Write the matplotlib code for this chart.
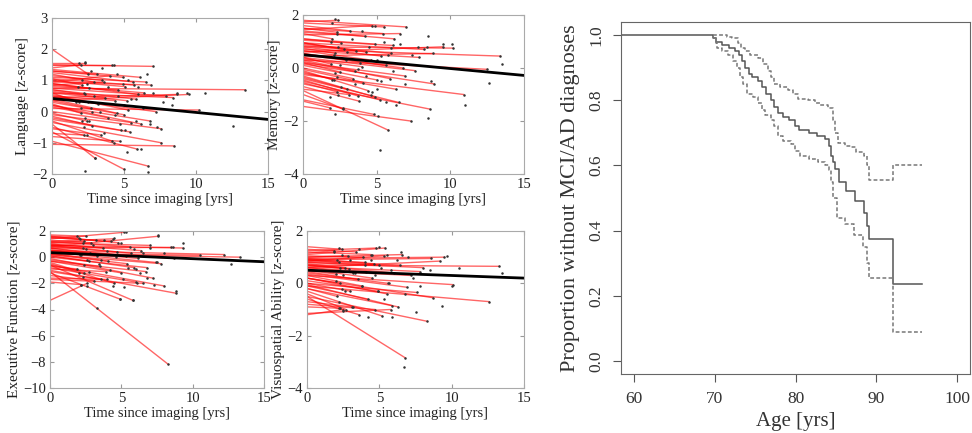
import matplotlib
matplotlib.use("Agg")
import matplotlib.pyplot as plt

plt.rcParams["font.family"] = ["Liberation Serif", "DejaVu Serif"]

# ---- Spaghetti panels: each subject line runs from t=0 to t_end ----
# Language
lang_end = [13.4, 10.2, 9.5, 8.7, 8.5, 8.4, 7.6, 7.0, 6.9, 6.7, 6.5, 6.2, 6.0, 5.9, 5.8,
            5.6, 5.5, 5.3, 5.1, 5.0, 5.0, 4.9, 4.8, 4.6, 4.5, 4.3, 4.2, 4.0, 3.9, 3.7,
            3.5, 3.4, 3.2, 3.0, 2.9, 2.7, 2.6, 2.5, 2.4, 2.3, 2.3, 2.2, 2.1, 2.0, 2.0,
            1.9, 7.6, 6.4, 5.7, 7.2, 4.7, 3.6, 2.8, 5.2, 6.8, 7.9, 4.4, 3.1, 5.4, 6.1]
lang_start = [0.75, 0.10, 0.35, 0.45, -1.05, 0.60, -0.10, 1.50, 0.95, -0.95, 1.10, 0.20, 0.90, -0.50, 0.70,
              1.25, 0.00, 0.55, 1.00, -0.65, 0.30, 1.30, -0.20, 0.80, 0.40, 1.50, -0.30, 0.95, 0.15, 0.65,
              1.15, -0.55, 0.50, -0.40, 1.20, 0.35, 0.90, 2.00, -0.05, 1.55, 0.70, -0.70, 1.05, 0.25, 1.40,
              0.60, -0.35, 0.85, 1.05, 0.45, -0.80, 0.85, -0.15, 0.60, 0.20, 0.75, 0.50, 1.30, -0.25, 1.35]
lang_last = [0.70, 0.05, 0.55, 0.55, -1.10, 0.45, -0.55, 1.45, 0.85, -1.75, 0.95, -0.40, 0.55, -1.20, 0.40,
             0.95, -0.35, 0.05, 0.80, -1.85, -0.10, 1.10, -0.60, 0.70, -0.05, 1.50, -0.95, 1.15, -0.20, 0.45,
             1.00, -0.75, 0.25, -1.50, 0.95, 0.10, 0.75, 1.20, -0.30, 1.55, 0.55, -0.75, 0.85, -0.05, 1.50,
             0.30, -1.00, 0.60, 0.85, 0.00, -0.95, 0.95, -0.45, 0.35, -0.30, 0.50, 0.35, 1.20, -0.65, 1.10]
lang_dot_x = [1.9, 2.3, 2.1, 2.4, 2.2, 2.5, 2.0, 2.3, 2.6, 2.2, 2.4, 2.3, 3.0, 1.8, 2.7, 2.9, 3.3,
              3.5, 3.6, 4.2, 4.5, 4.6, 4.4, 4.7, 4.9, 5.0, 5.1, 5.2, 4.3, 5.3, 5.5, 5.8, 6.0, 6.2,
              6.3, 6.6, 6.8, 7.0, 7.3, 7.7, 8.3, 8.7, 9.4, 10.6, 12.6, 6.7, 2.1, 1.7, 2.8, 3.9]
lang_dot_y = [1.55, 1.6, 1.0, 0.9, 0.6, 0.3, 0.1, -0.2, -0.3, -0.5, -0.75, -1.9, -1.5, 0.8, 1.3, 0.5, 0.0,
              1.4, -0.7, 1.5, 1.2, 0.5, -0.1, -0.4, 0.9, 0.2, -0.6, -1.3, -1.0, 1.0, 0.4, -0.3, 0.8, -1.2,
              0.1, 1.2, -0.4, 0.6, -0.5, 0.3, 0.2, 0.6, 0.6, 0.6, -0.45, -1.95, -0.3, 0.3, 0.0, 0.8]
lang_mean = [0.42, -0.25]

# Memory
mem_end = [13.4, 12.5, 10.9, 10.2, 9.5, 8.8, 8.6, 8.2, 7.3, 7.0, 6.9, 6.6, 6.3, 6.0, 5.8,
           5.6, 5.4, 5.2, 5.0, 4.9, 4.8, 4.6, 4.4, 4.2, 4.0, 3.8, 3.6, 3.4, 3.2, 3.0,
           2.9, 2.7, 2.6, 2.5, 2.4, 2.3, 2.2, 2.1, 2.0, 1.9, 1.8, 6.1, 5.3, 7.6, 4.7,
           3.7, 6.5, 5.9, 4.3, 7.9, 3.1, 2.8, 5.5, 4.1, 6.8, 8.9, 2.3, 3.5, 4.9, 6.2]
mem_start = [0.70, 0.30, -0.25, 0.80, 0.60, 0.45, -0.60, 0.95, -1.45, 1.80, 0.20, 1.25, -0.20, 0.90, -0.85,
             0.55, 1.50, -0.50, 0.10, 1.10, -1.20, 0.65, -0.10, 1.35, 0.35, -0.70, 0.85, 0.00, 1.60, -0.35,
             0.55, -1.00, 1.10, 0.20, 1.75, -0.55, 0.75, -0.15, 1.30, 0.40, -1.25, 1.05, 0.80, 0.40, 1.45,
             -0.45, -0.40, 0.25, 0.95, 0.65, -0.80, 0.95, 1.70, -0.05, 0.50, 0.15, 1.50, 0.30, -0.30, 1.40]
mem_last = [0.45, -0.05, -1.00, 0.75, 0.80, 0.55, -1.55, 0.70, -2.00, 1.55, -0.30, 1.30, -0.80, 0.55, -2.35,
            0.10, 1.30, -1.20, -0.45, 0.90, -1.75, 0.30, -0.85, 1.20, 0.05, -1.25, 0.65, -0.40, 1.40, -0.80,
            0.30, -1.55, 0.95, -0.15, 1.80, -0.90, 0.55, -0.45, 1.10, 0.15, -1.50, 0.85, 0.45, -0.10, 1.60,
            -1.05, -1.30, -0.40, 0.60, 0.40, -1.00, 0.70, 1.55, -0.55, 0.00, -0.60, 1.35, -0.10, -1.10, 1.10]
mem_dot_x = [2.2, 2.0, 2.3, 1.9, 2.4, 2.1, 2.5, 2.2, 2.3, 2.0, 2.6, 2.4, 1.8, 2.2, 2.7, 3.0, 3.3,
             3.5, 3.9, 4.0, 4.3, 4.5, 4.7, 4.9, 5.0, 5.1, 5.2, 5.3, 5.5, 5.6, 5.8, 6.1, 6.3, 6.6,
             6.9, 7.4, 7.8, 8.4, 8.5, 8.5, 8.7, 9.5, 10.1, 11.0, 12.6, 13.5, 5.0, 4.6, 6.0, 3.7]
mem_dot_y = [1.85, 1.7, 1.3, 1.0, 0.8, 0.5, 0.1, -0.2, -0.35, -0.45, -0.7, -1.0, -1.1, -1.75, -1.5, 0.6, 1.1,
             -0.6, 0.2, 1.4, -0.3, 0.8, -0.9, 1.6, 0.3, -1.8, -3.1, -0.5, 1.0, -1.3, 0.5, -0.1, -1.4, 0.9,
             -0.6, 0.5, 0.8, 0.8, 1.2, -1.9, -0.5, 0.9, 0.9, -1.4, -0.55, 0.15, -0.8, -1.0, 0.75, -0.05]
mem_mean = [0.50, -0.28]

# Executive function
exe_end = [13.3, 12.2, 10.5, 9.3, 8.8, 8.6, 8.3, 8.0, 7.6, 7.2, 7.0, 6.8, 6.5, 6.2, 6.0,
           5.8, 5.6, 5.4, 5.2, 5.0, 4.9, 4.7, 4.5, 4.3, 4.1, 3.9, 3.7, 3.5, 3.3, 3.1,
           2.9, 2.7, 2.6, 2.5, 2.4, 2.3, 2.2, 2.1, 2.0, 1.9, 6.4, 5.3, 7.4, 4.4, 3.6,
           5.9, 2.8, 4.8, 6.7, 3.2, 8.7, 5.7, 4.0, 7.8, 2.4]
exe_start = [0.25, 0.50, 0.30, 0.90, -1.00, 0.70, -1.10, -0.60, 0.80, -0.10, 1.10, 0.00, -1.70, 0.50, -0.80,
             -0.60, 1.20, 0.20, 1.40, -0.30, -1.20, 0.80, -0.50, 1.50, 0.30, -0.90, 1.00, -0.20, 0.60, -1.40,
             1.30, 0.10, -3.30, 1.70, -0.40, 0.90, -1.90, 0.40, 1.60, -0.70, 1.00, 0.70, 0.40, 1.20, -1.10,
             0.10, 0.70, 1.60, -0.30, 1.50, 0.50, 0.90, -1.60, 0.20, 1.10]
exe_last = [0.00, 0.20, 0.15, 0.70, -2.75, 0.75, -8.20, -2.20, 1.60, -1.60, 0.90, -0.80, -2.00, -0.10, -1.90,
            -3.30, 0.80, -0.50, 1.90, -1.20, -3.20, 0.40, -2.00, 1.20, -0.30, -1.10, 0.70, -0.70, 0.10, -1.80,
            1.10, -0.30, -2.00, 1.60, -1.20, 0.70, -2.10, 0.20, 1.50, -0.90, 0.50, 0.10, -0.40, 1.40, -1.70,
            -0.80, 0.30, 1.10, -1.10, 1.30, -0.10, 0.30, -1.70, -0.50, 1.20]
exe_dot_x = [1.9, 2.1, 2.3, 2.5, 2.2, 2.6, 2.4, 2.0, 2.7, 2.3, 2.6, 2.2, 3.3, 3.0, 3.4, 3.8, 4.0,
             4.2, 4.4, 4.6, 4.9, 5.0, 5.1, 5.2, 5.3, 5.5, 5.8, 5.9, 6.1, 6.3, 6.5, 6.8, 7.0, 7.3,
             7.6, 8.0, 8.5, 8.8, 9.3, 12.7, 4.5, 3.6, 6.0, 7.5]
exe_dot_y = [1.6, 1.4, 1.1, 0.6, 0.2, -0.2, -0.6, -1.2, -1.1, -1.5, -2.2, -2.1, -3.9, 0.9, -0.5, 1.3, 0.5,
             -1.0, -2.2, 0.0, -3.2, 1.1, -1.7, -2.3, 1.9, -0.8, -3.3, 0.6, -2.0, -1.2, 0.3, -1.6, 0.7, -2.1,
             1.7, 0.3, 0.8, -2.6, 1.1, -0.5, 1.5, -0.2, -0.9, -0.4]
exe_mean = [0.35, -0.35]

# Visuospatial ability
vis_end = [13.3, 12.6, 10.1, 9.5, 9.2, 8.7, 8.3, 8.0, 7.6, 7.2, 6.8, 6.6, 6.3, 6.0, 5.8,
           5.6, 5.4, 5.2, 5.0, 4.9, 4.7, 4.5, 4.4, 4.2, 4.0, 3.8, 3.6, 3.4, 3.2, 3.0,
           2.8, 2.7, 2.6, 2.5, 2.4, 2.3, 2.2, 2.1, 2.0, 1.9, 6.4, 5.5, 7.8, 4.6, 3.5,
           5.9, 2.9, 4.8, 6.9, 3.1, 8.6, 4.1, 5.3, 3.9, 2.2]
vis_start = [0.70, -0.10, 0.30, 0.95, 0.60, 0.20, -0.50, 0.80, 0.00, 0.50, -0.50, 1.00, -0.20, 0.70, -1.15,
             0.40, 1.10, -0.30, 0.80, 0.10, -0.80, 0.55, 1.20, -0.10, 0.90, 0.30, -0.60, 1.30, 0.60, 0.00,
             1.00, -0.40, 0.75, -1.20, 1.40, 0.20, 0.90, -0.20, 0.50, 1.15, 0.85, 0.20, 0.65, 0.95, 0.45,
             -0.05, 0.70, 1.25, 0.35, -0.70, 0.90, 0.60, 0.85, 1.05, -0.90]
vis_last = [0.65, -0.70, -0.05, 1.00, 0.85, -0.55, -1.45, 0.60, -0.35, 0.30, -2.85, 1.10, -0.90, 0.40, -1.00,
            0.00, 1.35, -1.25, 0.70, -0.30, -1.00, 0.20, 1.10, -0.60, 0.80, -0.10, -1.20, 1.20, 0.40, -0.30,
            1.05, -1.00, 0.60, -1.00, 1.30, 0.00, 0.80, -0.50, 0.35, 1.25, 0.70, -0.40, 0.45, 0.75, 0.15,
            -0.85, 0.55, 1.35, -0.15, -0.90, 0.95, 0.45, 1.05, 1.00, -0.95]
vis_dot_x = [1.9, 2.2, 2.4, 2.1, 2.3, 2.5, 2.0, 2.4, 2.6, 2.2, 2.3, 2.5, 3.0, 3.3, 3.6, 3.8, 4.0,
             4.2, 4.5, 4.7, 4.9, 5.0, 5.1, 5.3, 5.5, 5.7, 5.9, 6.2, 6.5, 6.8, 7.0, 7.3, 7.5, 7.8,
             8.5, 9.3, 9.7, 10.5, 10.0, 13.5, 6.7, 4.4, 3.2, 5.8]
vis_dot_y = [1.2, 1.35, 1.1, 0.9, 0.6, 0.3, 0.1, -0.2, -0.3, -0.7, -0.95, -1.05, 0.9, 0.4, 1.3, -0.1, 0.7,
             -1.3, 1.1, 0.3, -0.3, 1.4, 0.6, -0.6, 1.1, 0.0, -1.3, 0.9, 1.2, -0.4, 1.0, 0.2, -1.1, -0.1,
             0.5, -0.85, 1.05, 0.6, -0.1, 0.4, -3.2, 0.9, -0.9, 0.5]
vis_mean = [0.50, 0.20]

# ---- Kaplan-Meier curve with confidence band ----
km_age = [58.4, 69.8, 70.1, 70.9, 71.8, 72.5, 73.0, 73.4, 73.7, 74.2, 74.6, 75.4, 75.8, 76.4, 77.0,
          77.4, 77.8, 78.4, 79.2, 79.9, 80.4, 81.7, 82.6, 83.7, 84.2, 84.4, 84.6, 84.9, 85.4, 86.2,
          87.4, 88.5, 88.9, 89.1, 92.1, 95.6]
km_surv = [1.0, 0.99, 0.98, 0.97, 0.96, 0.95, 0.94, 0.92, 0.90, 0.88, 0.87, 0.86, 0.84, 0.82, 0.80,
           0.78, 0.76, 0.75, 0.74, 0.72, 0.71, 0.70, 0.69, 0.68, 0.66, 0.63, 0.61, 0.59, 0.55, 0.52,
           0.49, 0.455, 0.415, 0.375, 0.237, 0.237]
up_age = [69.8, 71.5, 72.1, 72.9, 73.3, 73.7, 74.4, 75.4, 76.0, 76.6, 77.0, 77.4, 78.1, 79.1, 79.7,
          80.3, 81.5, 82.4, 83.0, 84.0, 84.6, 84.9, 85.2, 86.1, 86.9, 87.5, 88.5, 88.9, 89.1, 92.1, 95.6]
up_surv = [1.0, 0.995, 0.99, 0.975, 0.96, 0.95, 0.94, 0.93, 0.91, 0.89, 0.87, 0.85, 0.84, 0.83, 0.82,
           0.805, 0.80, 0.79, 0.785, 0.775, 0.74, 0.70, 0.67, 0.66, 0.655, 0.64, 0.63, 0.60, 0.555, 0.60, 0.60]
lo_age = [69.8, 70.1, 70.3, 70.9, 71.7, 72.3, 72.8, 73.1, 73.5, 74.0, 74.8, 75.4, 75.8, 76.2, 77.0,
          77.4, 77.8, 78.5, 79.5, 79.9, 80.5, 81.7, 82.8, 83.6, 84.1, 84.4, 84.7, 85.1, 86.1, 87.3,
          88.3, 88.8, 89.1, 92.1, 95.6]
lo_surv = [0.99, 0.975, 0.96, 0.95, 0.94, 0.92, 0.90, 0.87, 0.85, 0.82, 0.81, 0.79, 0.77, 0.755, 0.74,
           0.72, 0.69, 0.675, 0.665, 0.645, 0.63, 0.62, 0.61, 0.60, 0.585, 0.55, 0.50, 0.44, 0.42, 0.385,
           0.35, 0.30, 0.255, 0.09, 0.09]

W, H = 972, 433
fig = plt.figure(figsize=(W / 100, H / 100), dpi=100)


def box(l, r, t, b):
    return [l / W, 1 - b / H, (r - l) / W, (b - t) / H]


def spaghetti(rect, t_end, y0, y1, dx, dy, mean, ylim, yticks, ylabel):
    ax = fig.add_axes(rect)
    for te, a, b in zip(t_end, y0, y1):
        ax.plot([0, te], [a, b], color="red", lw=1.0, alpha=0.6)
    ax.plot(t_end, y1, ".", color="#333", ms=1.6)
    ax.plot(dx, dy, ".", color="#333", ms=1.6)
    ax.plot([0, 15], mean, color="black", lw=2)
    ax.set_xlim(0, 15)
    ax.set_ylim(*ylim)
    ax.set_xticks([0, 5, 10, 15])
    ax.set_yticks(yticks)
    ax.tick_params(direction="in", top=True, right=True, length=3, color="#999",
                   labelsize=10.5, labelcolor="#222", pad=3)
    for s in ax.spines.values():
        s.set_color("#aaa")
    ax.set_xlabel("Time since imaging [yrs]", fontsize=10.5, color="#222", labelpad=1)
    ax.set_ylabel(ylabel, fontsize=11, color="#222", labelpad=2)
    return ax


spaghetti(box(52, 268, 18, 174), lang_end, lang_start, lang_last, lang_dot_x, lang_dot_y,
          lang_mean, (-2, 3), range(-2, 4), "Language [z-score]")
spaghetti(box(303, 524, 15, 174), mem_end, mem_start, mem_last, mem_dot_x, mem_dot_y,
          mem_mean, (-4, 2), [-4, -2, 0, 2], "Memory [z-score]")
spaghetti(box(50, 264, 231, 388), exe_end, exe_start, exe_last, exe_dot_x, exe_dot_y,
          exe_mean, (-10, 2), range(-10, 3, 2), "Executive Function [z-score]")
spaghetti(box(307, 524, 231, 388), vis_end, vis_start, vis_last, vis_dot_x, vis_dot_y,
          vis_mean, (-4, 2), [-4, -2, 0, 2], "Visuospatial Ability [z-score]")

# Kaplan-Meier panel (R style)
ax = fig.add_axes(box(621, 970, 22, 374))
ax.step(km_age, km_surv, where="post", color="#555", lw=1.1)
ax.step(up_age, up_surv, where="post", color="#777", lw=1.1, linestyle=(0, (2.5, 1.5)))
ax.step(lo_age, lo_surv, where="post", color="#777", lw=1.1, linestyle=(0, (2.5, 1.5)))
ax.set_xlim(58.4, 101.6)
ax.set_ylim(-0.04, 1.04)
ax.set_xticks(range(60, 101, 10))
ax.set_yticks([0.0, 0.2, 0.4, 0.6, 0.8, 1.0])
ax.set_yticklabels(["0.0", "0.2", "0.4", "0.6", "0.8", "1.0"], rotation=90, va="center")
ax.tick_params(direction="out", length=6, color="#555", labelsize=12.5, labelcolor="#333", pad=6)
for s in ax.spines.values():
    s.set_color("#666")
ax.set_xlabel("Age [yrs]", fontsize=15, color="#333", labelpad=4)
ax.set_ylabel("Proportion without MCI/AD diagnoses", fontsize=16, color="#333", labelpad=6)

fig.savefig("out.png", dpi=100)
